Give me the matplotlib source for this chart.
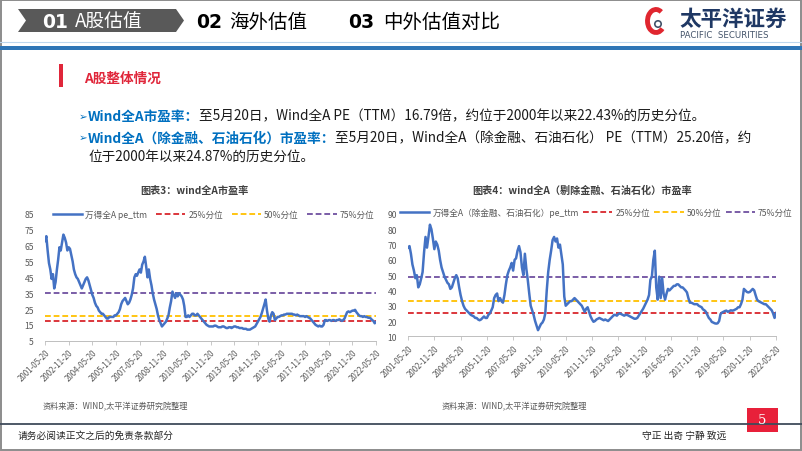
import numpy as np
import pandas as pd
import matplotlib
matplotlib.use('Agg')
import matplotlib.pyplot as plt
from matplotlib.patches import Polygon, Rectangle, Arc, Circle

plt.rcParams['font.family'] = ['Noto Sans CJK SC', 'DejaVu Sans']

# ---------------- data (monthly readings, 2001-05-20 .. 2022-05-20) ----------------
pe_all_a = [
    68, 71, 62, 54, 50, 44, 47, 38,                                   # 2001 (May-Dec)
    42, 50, 56, 64, 62, 67, 72, 70, 67, 62, 64, 63,                   # 2002
    59, 55, 50, 47, 45, 44, 42, 40, 38, 40, 42, 44,                   # 2003
    45, 43, 40, 37, 34, 32, 29, 27, 26, 24, 23, 22,                   # 2004
    22, 21, 20, 19, 19, 20, 20, 20, 20, 21, 21, 22,                   # 2005
    23, 25, 28, 30, 31, 32, 30, 28, 29, 31, 34, 38,                   # 2006
    45, 47, 46, 48, 50, 48, 53, 55, 58, 52, 45, 50,                   # 2007
    44, 40, 35, 31, 28, 25, 21, 18, 16, 14, 15, 16,                   # 2008
    17, 19, 21, 26, 30, 36, 34, 32, 35, 33, 35, 34,                   # 2009
    33, 31, 27, 20, 20, 21, 20, 21, 22, 22, 21, 21,                   # 2010
    22, 21, 20, 19, 18, 17, 16, 15, 14.5, 14, 14, 14,                 # 2011
    14, 14.5, 14.5, 14, 13.5, 13.5, 13.5, 14, 14, 13.5, 13, 13,       # 2012
    13.5, 13.5, 13, 13.5, 14, 14, 13.5, 13.5, 13, 13, 13, 12.5,       # 2013
    12.5, 12.5, 12, 12, 12, 12.5, 13, 13.5, 14, 15.5, 17, 18.5,       # 2014
    20, 22.5, 25, 28, 31, 24, 19, 17, 21, 23, 22, 18,                 # 2015
    19, 20, 20, 20.5, 21, 21, 21.5, 21.5, 22, 22, 22, 22,             # 2016
    22, 21.5, 21.5, 21, 21.5, 21, 20.5, 20.5, 20.5, 20.5, 20, 20.5,   # 2017
    20, 19.5, 19, 18, 17, 16, 15, 14.5, 14, 14.5, 14, 14,             # 2018
    15, 18, 18, 17.5, 18, 18, 17.5, 18, 18, 17.5, 18, 18,             # 2019
    18.5, 18, 17.5, 18, 19, 21, 23, 23.5, 23, 23.5, 24, 24,           # 2020
    24.5, 23, 22, 21, 20.5, 20.5, 20, 20.5, 20, 20, 19.5, 19.5,       # 2021
    19, 18, 17.5, 16, 16.79,                                          # 2022 (Jan-May)
]

pe_ex_fin = [
    68, 69, 64, 57, 53, 48, 50, 42,                                   # 2001
    44, 48, 52, 65, 75, 68, 75, 83, 80, 74, 67, 72,                   # 2002
    70, 66, 60, 55, 52, 49, 47, 45, 44, 41, 42, 45,                   # 2003
    48, 50, 48, 42, 37, 33, 30, 28, 27, 26, 25, 24,                   # 2004
    23.5, 23, 22, 22, 21, 20.5, 21, 22, 23, 22, 22, 24,               # 2005
    25, 27, 29, 35, 37, 38, 33, 35, 33, 32, 37, 44,                   # 2006
    50, 53, 55, 58, 53, 60, 61, 66, 69, 65, 55, 50,                   # 2007
    64, 54, 47, 38, 30, 27, 24, 20, 17, 14, 16, 18,                   # 2008
    19, 21, 25, 40, 52, 60, 66, 73, 75, 72, 74, 68,                   # 2009
    70, 63, 57, 36, 30, 31, 32, 33, 33, 34, 35, 34,                   # 2010
    33, 32, 31, 30, 28, 26, 28, 29, 26, 23, 21, 19.5,                 # 2011
    20, 21, 21.5, 22, 21.5, 21, 20.5, 21, 20.5, 20, 21, 22,           # 2012
    23, 24, 24, 23.5, 24.5, 25, 24.5, 24, 23.5, 24, 24, 23.5,         # 2013
    23, 22.5, 22, 21.5, 21.5, 22, 23.5, 25, 26.5, 28, 30, 32,         # 2014
    34, 37, 47, 49, 60, 66, 42, 34, 49, 35, 48, 38,                   # 2015
    34, 38, 41, 40, 41, 42, 43, 43, 44, 44, 43, 42,                   # 2016
    42, 41, 40, 38.7, 35, 32, 32, 31.5, 31, 31, 31, 30,               # 2017
    29.5, 29, 27.6, 27, 26, 24, 22, 21, 19.4, 19, 18.5, 18.3,         # 2018
    18.5, 20, 24.5, 25.5, 26, 26.5, 26.8, 26, 26.5, 27, 26.8, 27,     # 2019
    27.5, 28, 29, 29, 31, 34, 41, 40, 39, 38.7, 39, 40,               # 2020
    41, 40, 37, 34, 33, 32.5, 32, 31.5, 31, 31, 30, 29,               # 2021
    28, 27, 25, 22, 25.2,                                             # 2022
]

quantile_labels = ['25%分位', '50%分位', '75%分位']
quantiles_all_a = [17.3, 20.9, 35.1]
quantiles_ex_fin = [25.0, 32.9, 48.8]

series_label_1 = '万得全A pe_ttm'
series_label_2 = '万得全A（除金融、石油石化）pe_ttm'
title_1 = '图表3：wind全A市盈率'
title_2 = '图表4：wind全A（剔除金融、石油石化）市盈率'
source_text = '资料来源：WIND,太平洋证券研究院整理'

dates = pd.date_range('2001-05-20', periods=len(pe_all_a), freq=pd.DateOffset(months=1))
tick_dates = dates[::18]
tick_labels = [d.strftime('%Y-%m-%d') for d in tick_dates]

# ---------------- styling ----------------
LINE_BLUE = '#4472C4'
Q_COLORS = ['#D9262C', '#FFC000', '#7051A0']
TICK_GREY = '#595959'

fig = plt.figure(figsize=(8.02, 4.52), dpi=100)

# background axes in pixel coordinates
bg = fig.add_axes([0, 0, 1, 1], zorder=-1)
bg.set_xlim(0, 802)
bg.set_ylim(452, 0)
bg.axis('off')

# slide border
bg.add_patch(Rectangle((0.7, 0.7), 800.6, 450.6, fill=False, ec='#8c8c8c', lw=1.4))

# header chevron
bg.add_patch(Polygon([(18, 10), (176, 10), (184, 21.5), (176, 33), (18, 33), (26, 21.5)],
                     closed=True, fc='#595959', ec='none'))
hdr_y = 22
bg.text(42, hdr_y, '01', color='white', fontsize=13.5, weight='bold', family='DejaVu Sans',
        va='center', ha='left')
bg.text(75, hdr_y, 'A股估值', color='white', fontsize=13.5, va='center', ha='left')
bg.text(196, hdr_y, '02', color='black', fontsize=13.5, weight='bold', family='DejaVu Sans',
        va='center', ha='left')
bg.text(229, hdr_y, '海外估值', color='black', fontsize=14, va='center', ha='left')
bg.text(348, hdr_y, '03', color='black', fontsize=13.5, weight='bold', family='DejaVu Sans',
        va='center', ha='left')
bg.text(383, hdr_y, '中外估值对比', color='black', fontsize=14, va='center', ha='left')

# logo
bg.add_patch(Arc((656, 22), 17, 23, theta1=50, theta2=300, lw=3.5, color='#E0262F'))
bg.add_patch(Circle((658, 25), 3.2, fill=False, ec='#44546A', lw=1.2))
bg.text(679, 19.5, '太平洋证券', color='#1F3864', fontsize=15.5, weight='bold',
        va='center', ha='left')
bg.text(680, 36, 'PACIFIC  SECURITIES', color='#44546A', fontsize=6.2, family='DejaVu Sans',
        va='center', ha='left')

# blue header rule
bg.plot([0, 802], [42.8, 42.8], color='#BDD7EE', lw=0.8)
bg.add_patch(Rectangle((0, 46.5), 802, 4, fc='#2E75B6', ec='none'))

# section header
bg.add_patch(Rectangle((58.5, 65), 4.5, 23, fc='#E0263A', ec='none'))
bg.text(84, 79, 'A股整体情况', color='#E0263A', fontsize=9.8, weight='bold', va='center', ha='left')

# bullets
BULLET_BLUE = '#0070C0'
TEXT_BLACK = '#1a1a1a'
BODY_FS = 9.8


def chain(x, y, parts):
    prev = None
    for s, color, weight in parts:
        if prev is None:
            t = bg.text(x, y, s, color=color, fontsize=BODY_FS, weight=weight,
                        va='center', ha='left')
        else:
            t = bg.annotate(s, xy=(1, 0), xycoords=prev, va='bottom', ha='left',
                            color=color, fontsize=BODY_FS, weight=weight)
        prev = t


for yy in (116.7, 138.3):
    bg.text(79, yy, '➢', color=BULLET_BLUE, fontsize=7.5, family='DejaVu Sans',
            va='center', ha='left')
chain(88, 116.7, [('Wind全A市盈率：', BULLET_BLUE, 'bold'),
                  ('至5月20日，Wind全A PE（TTM）16.79倍，约位于2000年以来22.43%的历史分位。',
                   TEXT_BLACK, 'normal')])
chain(88, 138.3, [('Wind全A（除金融、石油石化）市盈率：', BULLET_BLUE, 'bold'),
                  ('至5月20日，Wind全A（除金融、石油石化） PE（TTM）25.20倍，约',
                   TEXT_BLACK, 'normal')])
bg.text(88, 157.3, '位于2000年以来24.87%的历史分位。', color=TEXT_BLACK, fontsize=BODY_FS,
        va='center', ha='left')

# chart titles & sources
bg.text(194, 190.7, title_1, ha='center', va='center', fontsize=7.3, weight='bold', color='#404040')
bg.text(582, 190.7, title_2, ha='center', va='center', fontsize=7.3, weight='bold', color='#404040')
bg.text(43, 406.7, source_text, ha='left', va='center', fontsize=5.9, color='#595959')
bg.text(442, 406.7, source_text, ha='left', va='center', fontsize=5.9, color='#595959')

# footer
bg.plot([0, 802], [425, 425], color='#3F4B5B', lw=1.3)
bg.text(18, 435.5, '请务必阅读正文之后的免责条款部分', fontsize=7, color='#262626', va='center', ha='left')
bg.text(642, 435.5, '守正 出奇 宁静 致远', fontsize=7, color='#262626', va='center', ha='left')
bg.add_patch(Rectangle((747, 409), 31, 24, fc='#E8203A', ec='none'))
bg.text(762.5, 421, '5', color='white', fontsize=9.5, family='DejaVu Serif', va='center', ha='center')


# ---------------- charts ----------------
def draw_chart(rect, values, quantiles, ylim, yticks, series_label, legend_anchor, colspace):
    ax = fig.add_axes(rect)
    ax.set_facecolor('none')
    handles = []
    h, = ax.plot(dates, values, color=LINE_BLUE, lw=1.8, label=series_label,
                 solid_joinstyle='round', zorder=3)
    handles.append(h)
    for q, c, lab in zip(quantiles, Q_COLORS, quantile_labels):
        hq = ax.axhline(q, color=c, lw=1.3, ls=(0, (3.2, 1.6)), label=lab, zorder=2)
        handles.append(hq)
    ax.set_xlim(dates[0], dates[-1])
    ax.set_ylim(*ylim)
    ax.set_yticks(yticks)
    ax.set_xticks(tick_dates)
    ax.set_xticklabels(tick_labels, rotation=45, ha='right', rotation_mode='anchor',
                       fontsize=5.7, color=TICK_GREY)
    ax.tick_params(axis='y', length=0, pad=8, labelsize=6.2, labelcolor=TICK_GREY)
    ax.tick_params(axis='x', length=3, width=0.6, color='#BFBFBF', pad=2)
    for s in ('top', 'right', 'left'):
        ax.spines[s].set_visible(False)
    ax.spines['bottom'].set_color('#BFBFBF')
    ax.spines['bottom'].set_linewidth(0.7)
    leg = ax.legend(handles=handles, ncol=4, loc='center', bbox_to_anchor=legend_anchor,
                    frameon=False, fontsize=6.2, handlelength=3.4, handletextpad=0.35,
                    columnspacing=colspace, borderaxespad=0, borderpad=0)
    for t in leg.get_texts():
        t.set_color(TICK_GREY)
    return ax


draw_chart([45 / 802, 1 - 341.7 / 452, 331 / 802, 126.7 / 452], pe_all_a, quantiles_all_a,
           (5, 85), np.arange(5, 86, 10), series_label_1, (0.51, 1.0), 1.0)
draw_chart([408 / 802, 1 - 337.3 / 452, 368 / 802, 122.3 / 452], pe_ex_fin, quantiles_ex_fin,
           (10, 90), np.arange(10, 91, 10), series_label_2, (0.512, 1.016), 0.5)

fig.savefig('out.png', dpi=100)
